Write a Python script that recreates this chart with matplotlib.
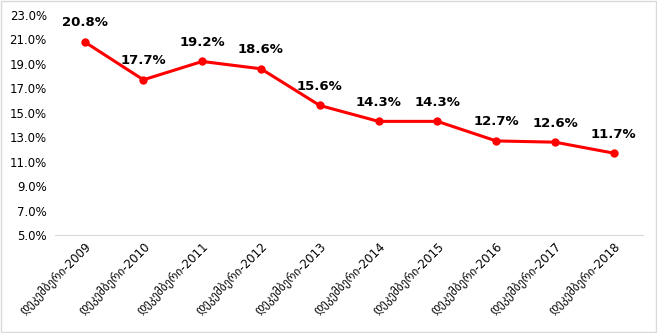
import matplotlib
matplotlib.use("Agg")
import matplotlib.pyplot as plt
from matplotlib.ticker import FuncFormatter, FixedLocator
from matplotlib.patches import Rectangle

categories = ["დეკემბერი-2009", "დეკემბერი-2010", "დეკემბერი-2011", "დეკემბერი-2012",
              "დეკემბერი-2013", "დეკემბერი-2014", "დეკემბერი-2015", "დეკემბერი-2016",
              "დეკემბერი-2017", "დეკემბერი-2018"]
values = [20.8, 17.7, 19.2, 18.6, 15.6, 14.3, 14.3, 12.7, 12.6, 11.7]
yticks = [5, 7, 9, 11, 13, 15, 17, 19, 21, 23]

plt.rcParams['font.family'] = ['DejaVu Sans']
fig = plt.figure(figsize=(6.57, 3.33), dpi=100)
ax = fig.add_axes([0.084, 0.294, 0.895, 0.661])
x = list(range(len(categories)))
ax.plot(x, values, color='#FF0000', linewidth=2.2, marker='o', markersize=5)
for xi, v in zip(x, values):
    ax.annotate(f"{v:.1f}%", (xi, v), xytext=(0, 9), textcoords='offset points',
                ha='center', va='bottom', fontsize=9.5, fontweight='bold')
ax.set_xlim(-0.5, len(categories) - 0.5)
ax.set_ylim(5, 23)
ax.yaxis.set_major_locator(FixedLocator(yticks))
ax.yaxis.set_major_formatter(FuncFormatter(lambda v, p: f"{v:.1f}%"))
ax.set_xticks(x)
ax.set_xticklabels(categories, rotation=45, ha='right', rotation_mode='anchor', fontsize=8.5)
ax.tick_params(axis='y', labelsize=8.5, length=0, pad=6)
ax.tick_params(axis='x', length=0, pad=4)
for s in ['top', 'right', 'left']:
    ax.spines[s].set_visible(False)
ax.spines['bottom'].set_color('#D9D9D9')
fig.patches.append(Rectangle((0.001, 0.002), 0.997, 0.995, transform=fig.transFigure,
                             fill=False, edgecolor='#D9D9D9', linewidth=1))
fig.savefig("out.png", dpi=100)
